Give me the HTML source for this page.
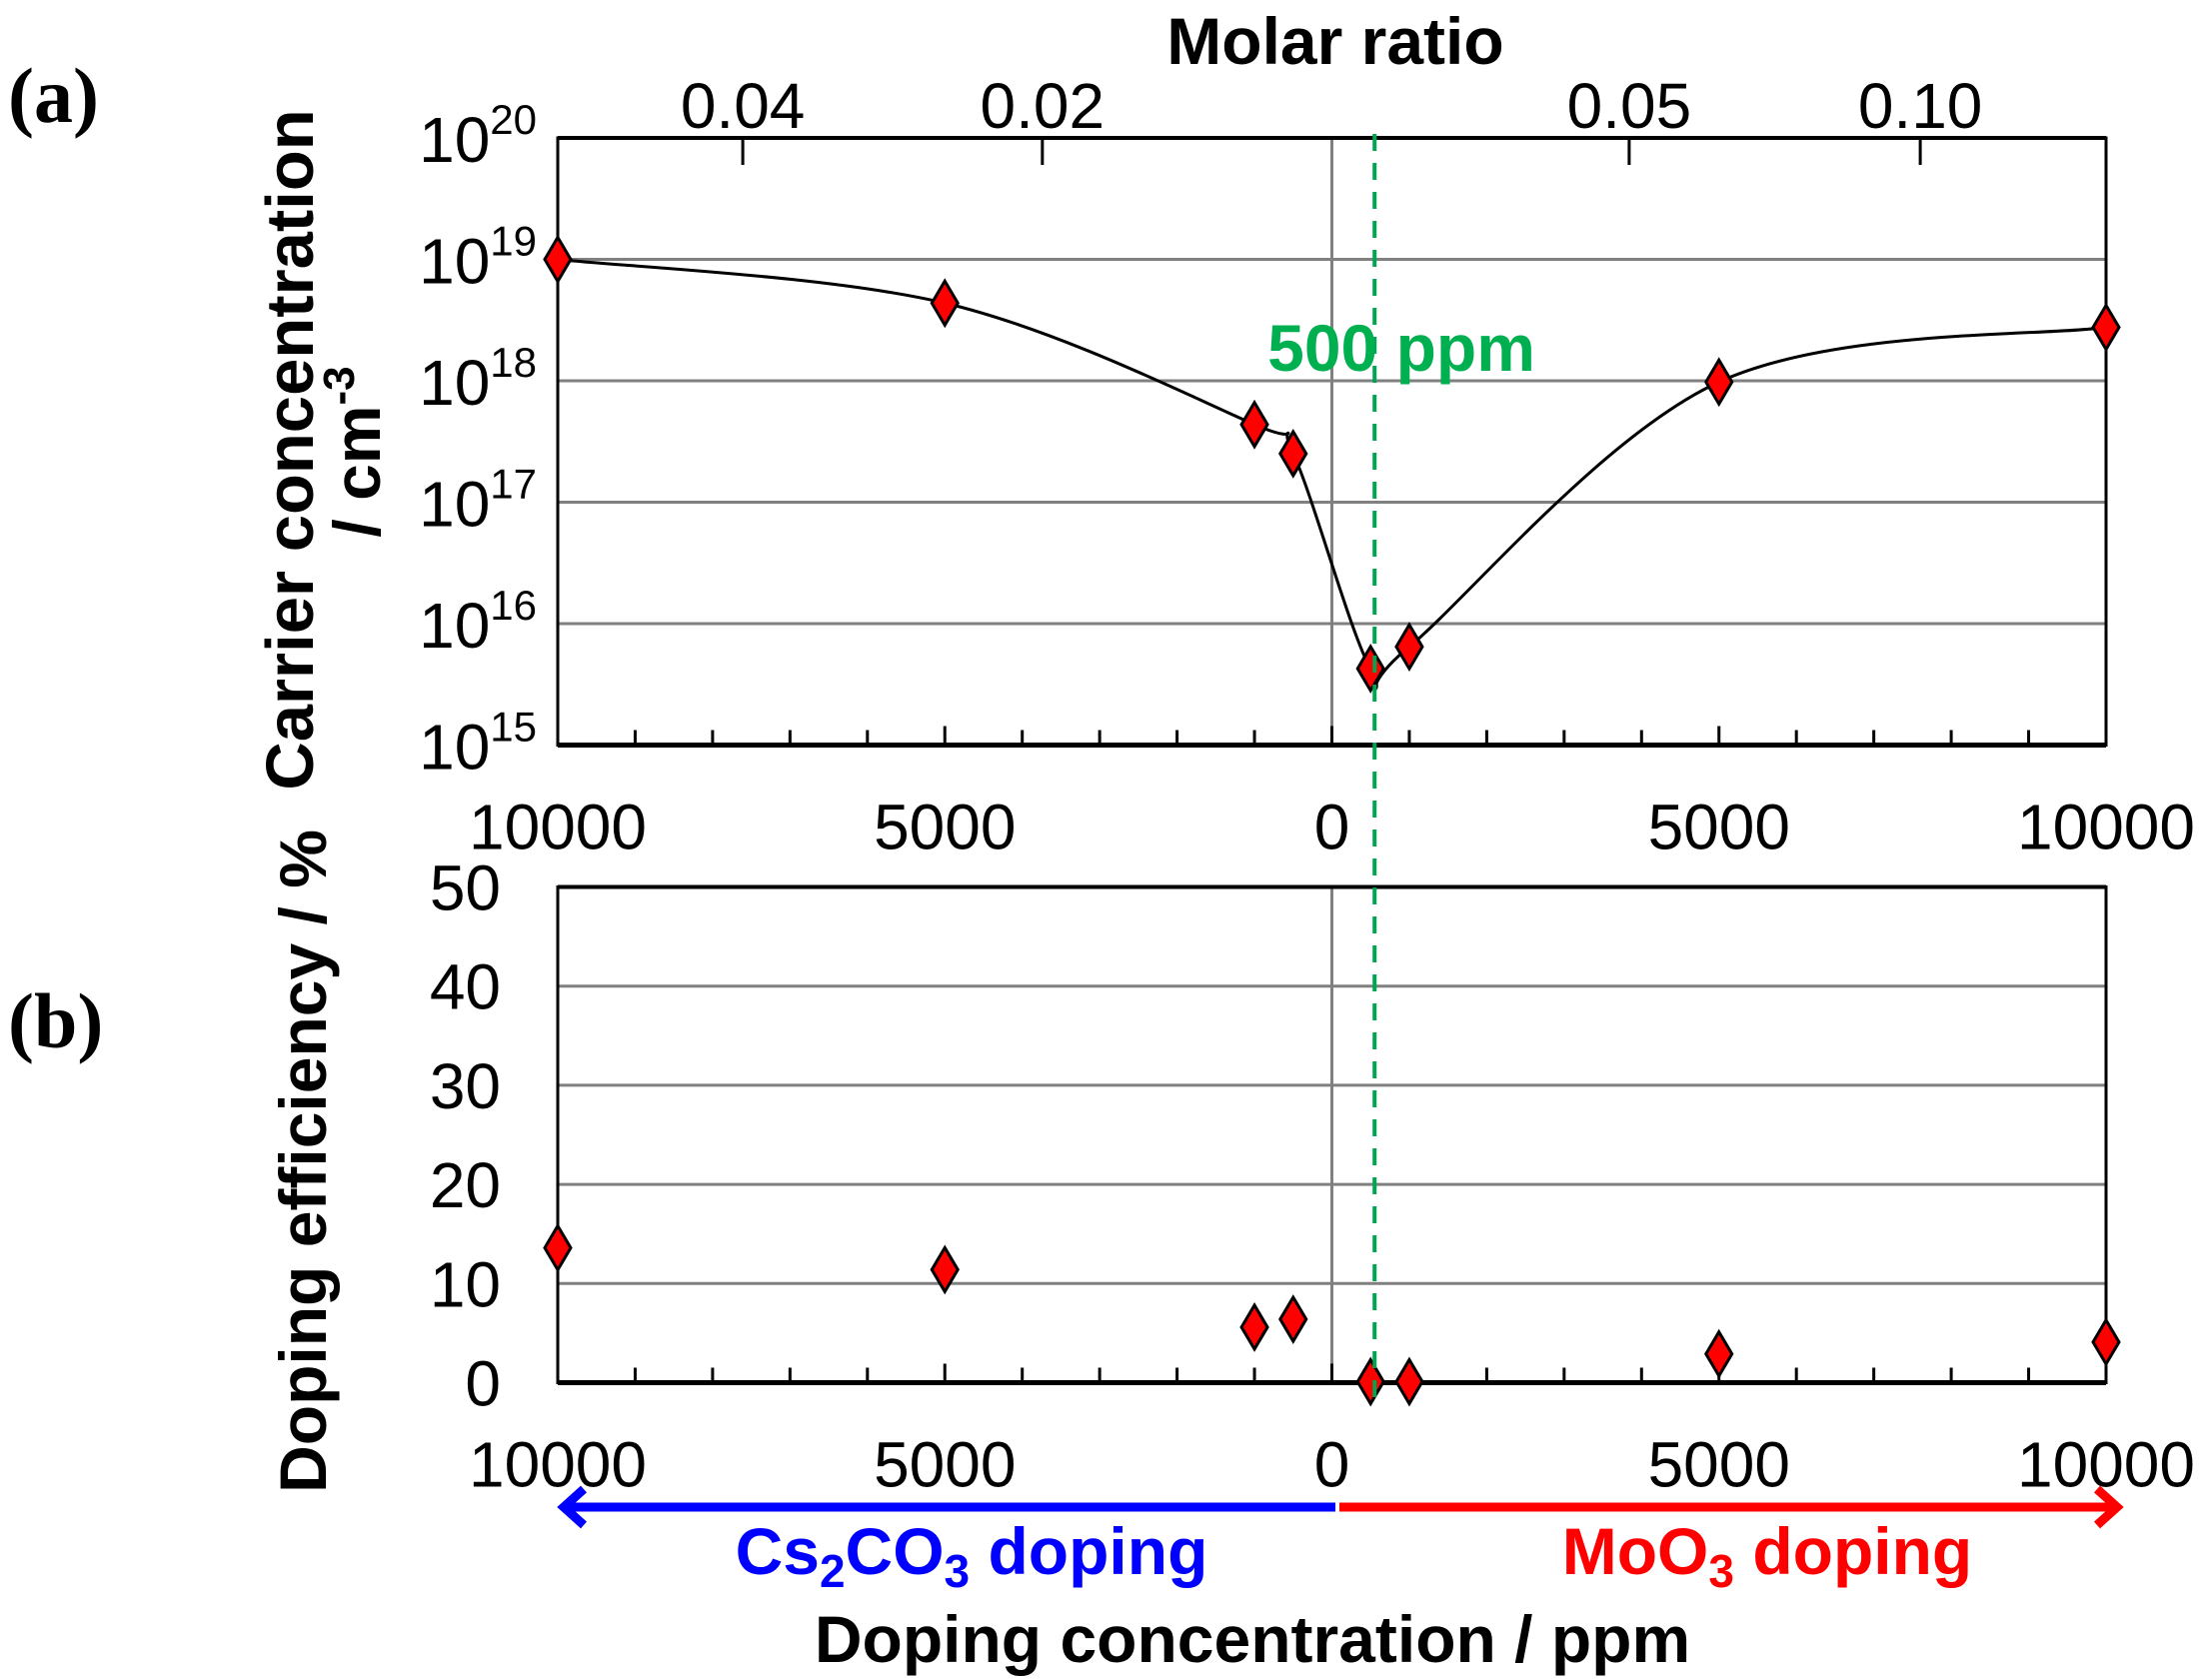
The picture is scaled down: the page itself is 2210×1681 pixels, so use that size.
<!DOCTYPE html>
<html><head><meta charset="utf-8"><style>
html,body{margin:0;padding:0;background:#fff;}
svg{display:block;}
text{font-family:"Liberation Sans",Arial,sans-serif;}
</style></head><body>
<svg id="chart" width="2210" height="1681" viewBox="0 0 2210 1681" xmlns="http://www.w3.org/2000/svg">
</svg>
<script>
const dopingPpm = [-10000, -5000, -1000, -500, 500, 1000, 5000, 10000];
const carrierLog = [19.0, 18.64, 17.64, 17.4, 15.63, 15.81, 17.99, 18.44];
const efficiency = [13.6, 11.4, 5.6, 6.4, 0.1, 0.1, 2.9, 4.1];
const xTickLabels = ["10000", "5000", "0", "5000", "10000"];
const xTickValues = [-10000, -5000, 0, 5000, 10000];
const logTicks = [15, 16, 17, 18, 19, 20];
const effTicks = [0, 10, 20, 30, 40, 50];
const molarLabels = ["0.04", "0.02", "0.05", "0.10"];
const molarPpm = [-7610, -3740, 3840, 7600];
const markerPpm = 500;

const svg = document.getElementById('chart');
const NS = 'http://www.w3.org/2000/svg';
function mk(tag, attrs, parent) {
  const e = document.createElementNS(NS, tag);
  for (const k in attrs) e.setAttribute(k, attrs[k]);
  (parent || svg).appendChild(e);
  return e;
}
const L = 558, R = 2107, C = (L + R) / 2;
const xs = v => C + v / 10000 * (R - C);
const aTop = 138, aBot = 745.5;
const ya = v => aBot - (v - 15) / 5 * (aBot - aTop);
const bTop = 887.5, bBot = 1383.5;
const yb = v => bBot - v / 50 * (bBot - bTop);

function panel(top, bot, yfun, ticks, name, isLog) {
  const g = mk('g', {});
  
  
  ticks.forEach(t => {
    if ((isLog && t > 15 && t < 20) || (!isLog && t > 0 && t < 50)) {
      const gl = mk('line', {x1: L, x2: R, y1: yfun(t), y2: yfun(t), stroke: '#808080', 'stroke-width': 3}, g);
      
      
    }
    if (isLog) {
      const tx = mk('text', {x: 537, y: yfun(t) + 24, 'text-anchor': 'end', 'font-size': 64}, g);
      
      
      const s1 = mk('tspan', {}, tx); s1.textContent = '10';
      const s2 = mk('tspan', {'font-size': 42, dy: -28}, tx); s2.textContent = String(t);
    } else {
      const tx = mk('text', {x: 501, y: yfun(t) + 23, 'text-anchor': 'end', 'font-size': 64}, g);
      
      
      tx.textContent = String(t);
    }
  });
  mk('line', {x1: C, x2: C, y1: top, y2: bot, stroke: '#808080', 'stroke-width': 3}, g);
  mk('rect', {x: L, y: top, width: R - L, height: bot - top, fill: 'none', stroke: '#000', 'stroke-width': 3}, g);
  mk('line', {x1: L, x2: R, y1: top, y2: top, stroke: '#000', 'stroke-width': 4}, g);
  mk('line', {x1: L, x2: R, y1: bot, y2: bot, stroke: '#000', 'stroke-width': 5}, g);
  for (let v = -10000; v <= 10000; v += 1000) {
    const len = (v % 5000 === 0) ? 19 : 15;
    mk('line', {x1: xs(v), x2: xs(v), y1: bot, y2: bot - len, stroke: '#000', 'stroke-width': 3}, g);
  }
  xTickValues.forEach((v, i) => {
    const tx = mk('text', {x: xs(v), y: bot + 104, 'text-anchor': 'middle', 'font-size': 64}, g);
    
    
    tx.textContent = xTickLabels[i];
  });
}
panel(aTop, aBot, ya, logTicks, 'carrier-panel', true);
panel(bTop, bBot, yb, effTicks, 'efficiency-panel', false);

molarLabels.forEach((lab, i) => {
  const x = xs(molarPpm[i]);
  mk('line', {x1: x, x2: x, y1: aTop, y2: aTop + 27, stroke: '#000', 'stroke-width': 3});
  const tx = mk('text', {x: x, y: 128, 'text-anchor': 'middle', 'font-size': 64});
  
  
  tx.textContent = lab;
});

const pts = dopingPpm.map((v, i) => [xs(v), ya(carrierLog[i])]);
let d = 'M' + pts[0][0] + ',' + pts[0][1];
for (let i = 0; i < pts.length - 1; i++) {
  const p0 = pts[Math.max(i - 1, 0)], p1 = pts[i], p2 = pts[i + 1], p3 = pts[Math.min(i + 2, pts.length - 1)];
  const c1 = [p1[0] + (p2[0] - p0[0]) / 6, p1[1] + (p2[1] - p0[1]) / 6];
  const c2 = [p2[0] - (p3[0] - p1[0]) / 6, p2[1] - (p3[1] - p1[1]) / 6];
  d += ' C' + c1 + ' ' + c2 + ' ' + p2;
}
const curve = mk('path', {d: d, fill: 'none', stroke: '#000', 'stroke-width': 3});



function diamond(x, y, name) {
  const p = mk('polygon', {points: `${x},${y-22} ${x+13},${y} ${x},${y+22} ${x-13},${y}`, fill: '#ff0000', stroke: '#000', 'stroke-width': 3});
  
  
}
dopingPpm.forEach((v, i) => diamond(xs(v), ya(carrierLog[i]), 'carrier-point'));
dopingPpm.forEach((v, i) => diamond(xs(v), yb(efficiency[i]), 'efficiency-point'));

const gx = xs(markerPpm) + 4;
const gl = mk('line', {x1: gx, x2: gx, y1: 134, y2: 1408, stroke: '#00a550', 'stroke-width': 4, 'stroke-dasharray': '17,12'});



function text(x, y, s, attrs, name) {
  const t = mk('text', Object.assign({x: x, y: y}, attrs));
  
  
  t.innerHTML = s;
  return t;
}
text(1402, 371, '500 ppm', {'text-anchor': 'middle', 'font-size': 66, 'font-weight': 'bold', fill: '#00b050'}, 'threshold-label');
text(1336, 64, 'Molar ratio', {'text-anchor': 'middle', 'font-size': 66, 'font-weight': 'bold'}, 'top-axis-title');
text(1253, 1663, 'Doping concentration / ppm', {'text-anchor': 'middle', 'font-size': 66, 'font-weight': 'bold'}, 'x-axis-title');
text(972, 1575, 'Cs<tspan font-size="46" dy="13">2</tspan><tspan dy="-13">CO</tspan><tspan font-size="46" dy="13">3</tspan><tspan dy="-13"> doping</tspan>', {'text-anchor': 'middle', 'font-size': 66, 'font-weight': 'bold', fill: '#0000ff'}, 'cs2co3-label');
text(1768, 1575, 'MoO<tspan font-size="46" dy="13">3</tspan><tspan dy="-13"> doping</tspan>', {'text-anchor': 'middle', 'font-size': 66, 'font-weight': 'bold', fill: '#ff0000'}, 'moo3-label');
text(0, 0, 'Carrier concentration', {'text-anchor': 'middle', 'font-size': 67, 'font-weight': 'bold', transform: 'translate(313,450) rotate(-90)'}, 'y-axis-title-a');
text(0, 0, '/ cm<tspan font-size="44" dy="-26">-3</tspan>', {'text-anchor': 'middle', 'font-size': 66, 'font-weight': 'bold', transform: 'translate(380,452) rotate(-90)'}, 'y-axis-unit-a');
text(0, 0, 'Doping efficiency / %', {'text-anchor': 'middle', 'font-size': 66, 'font-weight': 'bold', transform: 'translate(326,1162) rotate(-90)'}, 'y-axis-title-b');
text(8, 122, '(a)', {'font-size': 78, 'font-weight': 'bold', style: 'font-family:"Liberation Serif",serif'}, 'panel-a-label');
text(8, 1048, '(b)', {'font-size': 78, 'font-weight': 'bold', style: 'font-family:"Liberation Serif",serif'}, 'panel-b-label');

const ab = mk('path', {d: `M1336,1508 L566,1508 M584,1490 L564,1508 L584,1526`, stroke: '#0000ff', 'stroke-width': 9, fill: 'none'});


const ar = mk('path', {d: `M1340,1508 L2116,1508 M2098,1490 L2118,1508 L2098,1526`, stroke: '#ff0000', 'stroke-width': 9, fill: 'none'});


</script>
</body></html>
